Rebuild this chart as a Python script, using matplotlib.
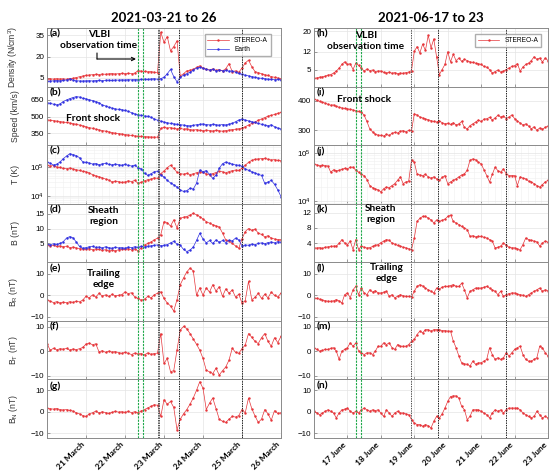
import numpy as np
import matplotlib.pyplot as plt
from matplotlib.transforms import ScaledTranslation

plt.rcParams['font.family'] = ['Liberation Sans', 'DejaVu Sans']
plt.rcParams['mathtext.default'] = 'regular'

W, H = 557, 474
RED = '#e6353a'
BLUE = '#3030e0'
GREEN = '#1fa84a'

# ---- March event, 2-hourly samples from 20 March 00:00 ----
mar_days = ['21 March', '22 March', '23 March', '24 March', '25 March', '26 March']
t_mar = np.arange(73) / 12

dens_sta_mar = [4.3, 4.4, 4.2, 4.5, 4.3, 4.4, 4.1, 4.6, 4.8, 5.3, 5.9, 6.4,
                6.8, 7.1, 7.3, 7.6, 7.4, 7.8, 7.6, 7.9, 8.1, 7.8, 8.0, 8.2,
                8.0, 8.3, 8.1, 8.4, 10.2, 9.8, 9.6, 9.3, 9.5, 9.0, 8.7, 37.0,
                30.0, 34.0, 24.0, 27.0, 31.0, 6.5, 8.0, 10.0, 10.5, 11.0, 12.5, 13.5,
                12.0, 11.2, 10.6, 11.4, 10.3, 10.9, 10.0, 11.5, 15.0, 9.5, 10.0, 9.0,
                12.0, 15.5, 17.5, 13.0, 9.5, 8.8, 8.0, 7.3, 6.8, 6.0, 5.5, 5.0,
                4.5]
dens_earth_mar = [2.6, 2.8, 3.0, 3.2, 3.0, 3.3, 3.6, 4.4, 3.5, 3.1, 2.9, 2.9,
                  3.0, 3.1, 2.9, 3.2, 3.3, 3.1, 3.4, 3.5, 3.3, 3.6, 3.5, 3.7,
                  3.6, 3.8, 3.7, 3.9, 3.8, 4.0, 4.2, 4.0, 4.3, 4.5, 4.1, 4.6,
                  5.5, 8.0, 11.0, 6.0, 2.3, 5.5, 7.0, 8.0, 9.0, 10.5, 12.0, 12.5,
                  11.8, 11.0, 10.5, 11.0, 10.2, 10.6, 10.0, 10.4, 9.8, 10.0, 9.0, 8.2,
                  7.5, 7.0, 6.5, 6.0, 5.5, 5.0, 4.8, 4.5, 4.2, 4.0, 3.8, 4.0,
                  3.6]
speed_sta_mar = [472, 468, 465, 460, 456, 452, 448, 444, 438, 432, 425, 418,
                 410, 402, 396, 388, 382, 376, 370, 364, 358, 352, 348, 345,
                 340, 336, 332, 328, 325, 323, 321, 320, 318, 317, 316, 395,
                 405, 398, 402, 395, 390, 396, 388, 392, 385, 380, 384, 378,
                 375, 380, 376, 372, 378, 374, 370, 376, 380, 384, 388, 392,
                 398, 410, 425, 440, 452, 468, 480, 492, 505, 512, 520, 530,
                 538]
speed_earth_mar = [625, 620, 612, 606, 615, 636, 650, 662, 672, 680, 676, 665,
                   660, 652, 645, 636, 625, 606, 596, 585, 577, 570, 566, 563,
                   556, 548, 536, 525, 518, 512, 506, 504, 495, 480, 468, 460,
                   452, 446, 440, 436, 432, 428, 425, 420, 418, 422, 428, 432,
                   435, 430, 426, 433, 428, 424, 430, 426, 434, 440, 455, 470,
                   480, 470, 462, 455, 448, 440, 432, 425, 418, 428, 410, 398,
                   390]
# temperatures in units of 1e4 K
temp_sta_mar = [11.5, 10.8, 11.2, 10.0, 9.6, 8.9, 8.7, 9.2, 8.5, 8.0, 7.6, 7.0,
                6.8, 6.2, 5.4, 4.9, 4.6, 4.2, 3.8, 3.5, 3.0, 3.2, 3.1, 2.9,
                3.0, 3.3, 3.1, 3.4, 2.7, 2.9, 3.3, 3.6, 3.8, 4.2, 4.0, 5.9,
                7.2, 9.5, 11.5, 9.0, 6.5, 5.9, 5.6, 6.0, 5.4, 5.8, 6.3, 6.8,
                6.5, 5.8, 5.4, 5.9, 6.4, 7.0, 6.8, 6.2, 6.9, 7.4, 7.8, 7.6,
                9.0, 11.5, 14.5, 17.0, 18.5, 19.0, 19.5, 20.0, 18.5, 17.5, 18.0, 17.0,
                16.5]
temp_earth_mar = [14.8, 13.5, 11.7, 12.5, 15.0, 19.5, 24.0, 29.0, 27.0, 25.0, 21.0, 15.0,
                  14.5, 13.8, 12.6, 13.2, 12.0, 12.8, 13.5, 12.4, 11.8, 12.6, 12.0, 11.5,
                  12.2, 11.4, 10.8, 11.5, 9.5, 8.6, 6.0, 5.1, 5.8, 6.8, 7.2, 5.2,
                  4.5, 3.4, 2.8, 2.4, 2.0, 1.6, 1.4, 1.5, 1.8, 1.7, 2.7, 7.8,
                  6.8, 7.5, 5.5, 4.0, 5.2, 9.0, 13.0, 14.8, 13.5, 12.6, 11.8, 11.5,
                  10.5, 8.7, 7.6, 6.8, 6.2, 5.5, 5.1, 2.7, 3.0, 3.4, 2.5, 1.6,
                  0.93]
b_sta_mar = [4.5, 4.3, 4.4, 4.0, 4.2, 3.9, 4.1, 3.6, 3.8, 3.5, 3.3, 3.2,
             3.1, 3.3, 2.9, 3.2, 3.0, 2.7, 2.9, 2.6, 2.8, 2.5, 2.9, 3.1,
             3.0, 3.3, 2.8, 3.2, 2.5, 3.6, 4.5, 5.0, 5.5, 6.2, 6.8, 7.9,
             12.3, 12.0, 10.8, 12.9, 10.2, 13.4, 13.8, 14.0, 14.5, 15.1, 14.6, 14.0,
             13.2, 12.3, 11.8, 11.3, 10.9, 10.5, 8.5, 6.2, 5.8, 5.0, 4.2, 3.4,
             6.5, 9.0, 10.0, 9.4, 9.8, 8.5, 8.0, 7.2, 7.6, 6.8, 6.5, 6.3,
             6.3]
b_earth_mar = [4.8, 4.6, 4.9, 4.7, 5.0, 5.6, 6.8, 7.3, 6.9, 5.5, 4.0, 3.4,
               3.6, 3.9, 4.0, 3.7, 3.8, 3.5, 3.9, 3.6, 3.4, 3.7, 3.5, 3.6,
               3.4, 3.8, 3.6, 3.9, 3.7, 4.0, 3.8, 4.1, 4.2, 4.4, 4.5, 4.3,
               4.4, 4.6, 5.2, 5.7, 4.8, 4.4, 3.0, 2.3, 2.8, 3.8, 6.0, 8.4,
               6.5, 5.2, 6.0, 5.0, 6.2, 5.4, 6.0, 5.3, 6.1, 5.8, 6.8, 6.2,
               4.2, 4.5, 4.4, 4.8, 4.6, 5.0, 5.2, 4.9, 5.3, 5.5, 5.2, 5.6,
               5.4]
br_mar = [-2.0, -2.8, -3.4, -3.0, -3.6, -3.2, -3.5, -3.0, -3.3, -2.8, -3.1, -2.2,
          -0.5, -1.2, 0.2, -0.8, 0.9, -0.3, 0.2, -0.5, 0.4, -0.2, 0.0, 0.3,
          1.6, 0.8, 1.2, -0.8, -1.5, -2.3, -1.8, -0.5, -1.2, 0.2, 1.0, 1.6,
          -1.5, -3.6, -5.0, -7.4, -2.0, 5.0, 8.1, 11.0, 12.7, 11.5, 0.0, 3.5,
          0.0, 3.5, 1.5, 5.0, 2.0, 4.0, -0.5, 3.0, 1.0, 2.5, -0.8, 0.5,
          -3.6, -2.5, 6.5, -2.0, -1.0, 1.0, -1.5, 0.5, -1.2, 1.5, 0.0, -0.8,
          1.0]
bt_mar = [3.1, 0.3, 1.2, 0.5, 1.0, 0.8, 1.1, 0.4, 0.9, 0.6, 1.0, 1.5,
          2.9, 3.3, 2.6, 3.0, -0.3, 0.2, -0.5, 0.0, -0.4, -0.2, -0.6, -0.9,
          -0.5, -0.9, -1.4, -0.8, -1.2, -1.0, -1.5, -0.7, -1.3, -1.0, -0.8, 7.2,
          -5.0, -3.0, -8.4, -8.0, 0.5, 8.6, 10.1, 9.2, 7.2, 5.0, 2.8, 0.4,
          -3.0, -7.8, -8.5, -9.2, -7.0, -9.8, -8.0, -6.5, -3.7, 1.2, -0.5, -0.9,
          1.0, 2.5, 7.2, 5.7, 4.0, 3.1, 5.5, 7.2, 4.0, 2.0, 5.5, 3.5,
          6.0]
bn_mar = [1.7, 1.4, 1.2, 1.5, 1.0, 0.8, 1.0, 0.6, 0.3, -0.5, -1.0, -1.8,
          -2.2, -1.0, -0.5, 0.3, -0.6, 0.0, -0.4, -0.8, -0.3, 0.2, -0.2, 0.0,
          -0.3, 0.1, -0.4, 0.0, -0.5, 0.4, 1.0, 1.8, 2.5, 3.3, 3.0, -2.2,
          5.6, 3.5, 4.8, 2.0, -8.4, -3.5, -1.0, 1.0, 3.5, 6.4, 10.0, 14.0,
          11.0, 1.0, 4.0, 6.4, 1.5, -3.5, -4.5, -5.0, -3.5, -2.2, -2.5, -1.8,
          1.0, -0.5, 6.4, 1.5, -2.0, -5.0, -3.5, 1.0, -1.0, -4.0, 0.5, -0.8,
          -0.5]

# ---- June event, 2-hourly samples from 16 June 00:00 ----
jun_days = ['17 June', '18 June', '19 June', '20 June', '21 June', '22 June', '23 June']
t_jun = np.arange(85) / 12

dens_jun = [1.5, 1.7, 2.0, 2.1, 2.4, 2.8, 3.0, 3.6, 4.4, 5.5, 7.0, 8.0,
            7.0, 7.3, 5.0, 7.5, 6.6, 5.5, 4.4, 5.2, 4.6, 4.8, 4.2, 4.4,
            4.4, 3.9, 3.6, 4.0, 3.5, 3.8, 3.4, 3.6, 3.5, 3.8, 4.0, 4.6,
            12.1, 14.0, 11.5, 15.0, 12.5, 18.4, 13.5, 17.0, 10.0, 3.0, 5.0, 7.0,
            12.0, 8.0, 11.0, 8.5, 9.5, 8.2, 9.0, 8.5, 8.0, 7.8, 7.5, 7.3,
            7.0, 6.2, 5.9, 5.0, 3.6, 4.2, 4.8, 4.0, 4.4, 5.0, 5.6, 6.2,
            6.5, 7.3, 4.4, 6.0, 7.0, 7.5, 8.5, 10.0, 9.0, 9.5, 8.0, 9.5, 8.5]
speed_jun = [406, 402, 398, 395, 392, 388, 385, 386, 381, 378, 376, 374,
             373, 371, 369, 366, 364, 362, 351, 330, 305, 295, 287, 284,
             283, 281, 286, 283, 290, 293, 291, 297, 299, 295, 300, 298,
             356, 352, 345, 342, 339, 336, 333, 330, 328, 332, 326, 322,
             324, 320, 326, 318, 322, 330, 310, 305, 316, 322, 328, 335,
             330, 338, 339, 344, 335, 342, 351, 345, 348, 340, 345, 352,
             340, 332, 325, 318, 322, 315, 305, 312, 300, 308, 304, 310, 315]
temp_jun = [6.0, 5.7, 5.5, 5.6, 5.5, 5.4, 4.0, 4.5, 4.3, 4.4, 4.6, 4.8,
            4.7, 5.1, 5.1, 4.4, 4.0, 3.6, 3.4, 2.8, 2.1, 1.9, 1.8, 1.7,
            1.55, 1.8, 1.95, 1.9, 2.1, 2.3, 2.7, 3.2, 2.3, 2.5, 2.6, 7.1,
            6.5, 3.7, 3.5, 3.4, 3.6, 3.2, 3.0, 3.2, 2.9, 2.7, 3.1, 3.4,
            2.3, 2.5, 2.7, 2.9, 3.2, 3.5, 3.7, 4.4, 7.1, 7.6, 7.3, 6.5,
            6.0, 4.5, 3.4, 2.5, 3.6, 5.1, 4.3, 4.0, 4.7, 3.7, 3.4, 3.4,
            3.4, 2.1, 3.2, 3.0, 2.9, 2.6, 2.5, 2.3, 2.1, 1.95, 2.2, 2.5, 2.7]
b_jun = [2.85, 2.8, 2.9, 2.7, 3.0, 3.1, 3.2, 3.3, 3.3, 4.0, 5.0, 4.1,
         3.7, 4.6, 2.4, 5.0, 2.4, 3.3, 3.0, 2.8, 2.9, 3.2, 3.5, 3.7,
         4.2, 4.6, 5.0, 4.8, 4.1, 3.8, 3.5, 3.3, 3.0, 2.85, 2.6, 2.4,
         5.4, 9.7, 10.5, 11.0, 11.0, 10.6, 10.1, 9.3, 10.1, 9.7, 10.0, 10.3,
         11.0, 11.4, 9.7, 9.3, 8.9, 8.4, 8.0, 7.6, 5.8, 6.0, 5.7, 5.8,
         5.8, 5.6, 5.4, 5.0, 4.6, 2.85, 3.0, 3.3, 4.1, 3.5, 3.0, 2.85,
         2.85, 2.6, 2.4, 3.7, 5.4, 5.0, 4.8, 4.6, 4.4, 3.3, 4.1, 4.6, 4.3]
br_jun = [-1.2, -1.5, -1.8, -2.2, -2.5, -2.8, -2.8, -2.6, -2.0, -2.6, -3.6, 0.3,
          1.1, -1.2, 2.6, 4.2, 0.3, 3.4, 1.1, 0.3, 2.6, 1.5, 2.2, 1.1,
          1.1, 1.5, 1.9, -0.5, 0.3, -1.2, -0.4, 0.3, -0.2, -0.5, -0.5, -0.8,
          1.9, 4.2, 5.0, 4.4, 3.4, 2.6, 1.9, 1.1, 3.4, 3.0, 3.8, 4.2,
          4.2, 4.6, 5.0, 4.2, 4.2, 5.7, 2.6, -1.2, 1.9, 2.6, 3.4, 3.4,
          3.4, 3.8, 4.2, 3.4, 2.6, 1.9, 0.3, 1.9, -0.5, 0.3, 0.8, 1.1,
          1.1, 0.6, 0.3, 0.0, -0.5, 0.3, 1.1, 1.9, 2.6, 3.4, 1.9, 2.6, 2.2]
bt_jun = [1.4, 0.7, 0.0, 0.3, 0.7, 0.7, 1.1, 1.4, 0.0, -3.4, 0.0, 0.7,
          1.4, 3.4, 2.0, 3.4, 0.0, -0.7, -1.4, -0.7, -0.7, -1.4, 0.0, 2.0,
          2.0, 3.4, 2.7, 3.4, 1.4, 0.7, 2.7, 2.0, 2.0, 2.0, 2.7, 4.1,
          4.8, 6.8, 8.2, 7.5, 8.8, 8.8, 8.2, 8.8, 8.8, 8.8, 8.4, 8.4,
          8.2, 8.2, 4.1, 1.4, -2.0, -4.8, -5.2, -5.4, -6.1, -4.1, -5.4, -4.8,
          -4.8, -4.1, -3.4, 1.4, -1.4, -3.4, -2.7, -3.4, -2.7, -0.7, -2.0, -0.7,
          0.7, 1.4, 2.0, -1.4, -3.4, -4.1, -4.1, -3.4, -2.7, 2.0, 1.4, -0.7, -2.0]
bn_jun = [0.2, -0.6, -1.4, -0.6, 0.2, 0.9, 0.2, -0.6, -2.9, -0.6, 0.9, 1.2,
          1.7, 0.2, -0.6, 0.2, -0.6, 0.9, 1.7, 0.9, 0.2, 0.9, 0.5, 0.9,
          -0.6, -2.2, 0.9, -0.6, -2.2, -0.6, 0.2, -0.6, -0.6, -1.0, -1.4, -3.7,
          -5.3, -6.0, -6.0, -6.8, -6.0, -6.5, -7.6, -4.5, -2.2, -2.9, -1.0, 1.7,
          4.8, 7.1, 7.4, 7.4, 6.4, 2.5, 0.9, -3.7, -2.2, 0.9, 0.9, 0.9,
          0.2, -0.6, -1.4, -2.9, -0.6, 0.9, 0.2, 0.9, -0.6, 0.9, 1.7, 1.7,
          1.7, 1.7, 0.9, -0.6, -1.4, -2.2, -2.9, -2.2, 0.2, -1.4, -2.9, -2.2, -2.9]

# event markers (days from start of each window)
vlbi_mar, shock_mar, marks_mar = [2.34, 2.47], [2.85, 2.88], [3.39, 5.01]
vlbi_jun, shock_jun, marks_jun = [1.26, 1.41], [2.90], [3.71, 5.75]

ylabels = ['Density (N/cm$^3$)', 'Speed (km/s)', 'T (K)', 'B (nT)',
           'B$_R$ (nT)', 'B$_T$ (nT)', 'B$_N$ (nT)']

fig = plt.figure(figsize=(W / 100, H / 100), dpi=100)
tops = np.linspace(28, 438, 8)


def make_axes(x0, x1, i):
    y0, y1 = tops[i], tops[i + 1]
    return fig.add_axes([x0 / W, 1 - y1 / H, (x1 - x0) / W, (y1 - y0) / H])


def trace(ax, t, v, color):
    ax.plot(t, v, '-', color=color, lw=0.5, marker='.', ms=1.5)


def style(ax, xlim, ticks, ticklabels, last):
    ax.set_xlim(*xlim)
    ax.set_xticks(ticks)
    ax.grid(True, color='#e4e4e4', lw=0.5)
    ax.set_axisbelow(True)
    ax.tick_params(direction='in', length=2, width=0.5, color='#777777',
                   labelsize=5.8, pad=2)
    for s in ax.spines.values():
        s.set_color('#8a8a8a')
        s.set_linewidth(0.7)
    if last:
        ax.set_xticklabels(ticklabels, rotation=45, ha='right', va='top',
                           rotation_mode='anchor', fontfamily='Lato',
                           fontweight='bold', fontsize=6.0)
        ax.tick_params(axis='x', pad=2)
        shift = ScaledTranslation(-0.05, 0, fig.dpi_scale_trans)
        for lab in ax.get_xticklabels():
            lab.set_transform(lab.get_transform() + shift)
    else:
        ax.set_xticklabels([])


def markers(ax, vlbi, shock, marks):
    for x in vlbi:
        ax.axvline(x, color=GREEN, lw=0.8, ls=(0, (2, 1)))
    for x in shock:
        ax.axvline(x, color='#555555', lw=0.7, ls=(0, (1.5, 1)))
    for x in marks:
        ax.axvline(x, color='#222222', lw=0.7, ls=(0, (1.5, 1)))


def label(ax, s):
    ax.text(0.012, 0.97, s, transform=ax.transAxes, ha='left', va='top',
            fontfamily='Lato', fontweight='bold', fontsize=7.5)


# left column: March
mar_series = [
    (dens_sta_mar, dens_earth_mar, (-1, 40), [5, 20, 35]),
    (speed_sta_mar, speed_earth_mar, (245, 770), [350, 500, 650]),
    (np.array(temp_sta_mar) * 1e4, np.array(temp_earth_mar) * 1e4,
     (10 ** 3.72, 10 ** 5.76), [1e4, 1e5]),
    (b_sta_mar, b_earth_mar, (-1.3, 18.3), [5, 10, 15]),
    (br_mar, None, (-12, 15.5), [-10, 0, 10]),
    (bt_mar, None, (-11.6, 12.4), [-10, 0, 10]),
    (bn_mar, None, (-12.3, 15.1), [-10, 0, 10]),
]
left_axes = []
for i, (red, blue, ylim, yt) in enumerate(mar_series):
    ax = make_axes(47, 281, i)
    if i == 2:
        ax.set_yscale('log')
        ax.grid(True, which='minor', color='#f0f0f0', lw=0.4)
    trace(ax, t_mar, red, RED)
    if blue is not None:
        trace(ax, t_mar, blue, BLUE)
    markers(ax, vlbi_mar, shock_mar, marks_mar)
    ax.set_ylim(*ylim)
    ax.set_yticks(yt)
    if i == 2:
        ax.set_yticklabels(['10$^4$', '10$^5$'])
        ax.minorticks_on()
        ax.tick_params(axis='y', which='minor', length=0)
        ax.tick_params(axis='x', which='minor', bottom=False)
    style(ax, (0, 6), range(1, 7), mar_days, i == 6)
    ax.set_ylabel(ylabels[i], fontsize=6.2, color='#333333')
    ax.yaxis.set_label_coords(-0.115, 0.5)
    label(ax, '(' + 'abcdefg'[i] + ')')
    left_axes.append(ax)

left_axes[0].set_title('2021-03-21 to 26', fontfamily='Lato',
                       fontweight='bold', fontsize=9.5, pad=4)
left_axes[0].legend(['STEREO-A', 'Earth'], loc='upper right', fontsize=4.8,
                    frameon=True, fancybox=False, edgecolor='#9a9a9a',
                    handlelength=3.2, borderpad=0.4, labelspacing=0.3,
                    bbox_to_anchor=(0.97, 0.95))

# right column: June
jun_series = [
    (dens_jun, (-1.7, 21.3), [5, 12, 20]),
    (speed_jun, (250, 448), [300, 400]),
    (np.array(temp_jun) * 1e4, (10 ** 3.94, 10 ** 5.17), [1e4, 1e5]),
    (b_jun, (-0.9, 14.3), [4, 8, 12]),
    (br_jun, (-12, 15.5), [-10, 0, 10]),
    (bt_jun, (-11.6, 12.4), [-10, 0, 10]),
    (bn_jun, (-12.3, 15.1), [-10, 0, 10]),
]
right_axes = []
for i, (red, ylim, yt) in enumerate(jun_series):
    ax = make_axes(314, 548, i)
    if i == 2:
        ax.set_yscale('log')
        ax.grid(True, which='minor', color='#f0f0f0', lw=0.4)
    trace(ax, t_jun, red, RED)
    markers(ax, vlbi_jun, shock_jun, marks_jun)
    ax.set_ylim(*ylim)
    ax.set_yticks(yt)
    if i == 2:
        ax.set_yticklabels(['10$^4$', '10$^5$'])
        ax.minorticks_on()
        ax.tick_params(axis='y', which='minor', length=0)
        ax.tick_params(axis='x', which='minor', bottom=False)
    style(ax, (0, 7), range(1, 8), jun_days, i == 6)
    label(ax, '(' + 'hijklmn'[i] + ')')
    right_axes.append(ax)

right_axes[0].set_title('2021-06-17 to 23', fontfamily='Lato',
                        fontweight='bold', fontsize=9.5, pad=4)
right_axes[0].legend(['STEREO-A'], loc='upper right', fontsize=4.8,
                     frameon=True, fancybox=False, edgecolor='#9a9a9a',
                     handlelength=3.2, borderpad=0.4,
                     bbox_to_anchor=(0.985, 0.95))


# annotations, positioned in figure pixels measured from the top-left
def P(x, y):
    return (x, H - y)


def note(x, y, s):
    fig.text(x / W, 1 - y / H, s, ha='center', va='center', fontfamily='Lato',
             fontweight='bold', fontsize=7.3, linespacing=1.15)


def arrow(x0, y0, x1, y1, head=True):
    left_axes[0].annotate('', xy=P(x1, y1), xytext=P(x0, y0),
                          xycoords='figure pixels', textcoords='figure pixels',
                          annotation_clip=False,
                          arrowprops=dict(arrowstyle='->' if head else '-',
                                          lw=0.8, color='black',
                                          shrinkA=0, shrinkB=0,
                                          mutation_scale=6))


note(99, 40, 'VLBI\nobservation time')
arrow(97, 53, 97, 59, head=False)
arrow(97, 59, 136, 59)
note(93, 118, 'Front shock')
arrow(122, 118, 157, 118)
note(104, 216, 'Sheath\nregion')
arrow(125, 210, 168, 210)
note(104, 279, 'Trailing\nedge')
arrow(125, 281, 240, 281)

note(366, 41, 'VLBI\nobservation time')
arrow(336, 49, 336, 54, head=False)
arrow(336, 54, 353, 54)
note(364, 99, 'Front shock')
arrow(395, 99, 410, 99)
note(381, 214, 'Sheath\nregion')
arrow(402, 210, 427, 210)
note(387, 273, 'Trailing\nedge')
arrow(407, 275, 505, 275)

fig.savefig('out.png', dpi=100)
